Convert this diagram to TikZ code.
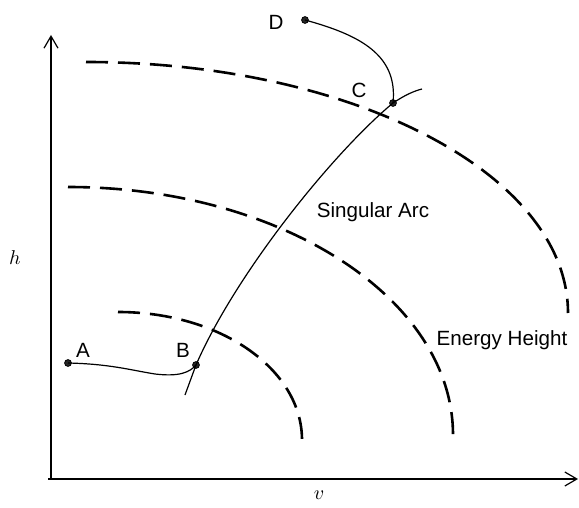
\documentclass[tikz,border=0pt]{standalone}
\usepackage{fontspec}
\setsansfont{Liberation Sans}
\usepackage{tikz}
\usetikzlibrary{arrows.meta}

\begin{document}
\begin{tikzpicture}[x=0.5pt, y=-0.5pt,
    axis/.style={line width=0.6pt, -{Straight Barb[length=6pt, width=7pt, line width=0.6pt]}},
    energy/.style={line width=1.3pt, dash pattern=on 11pt off 5pt},
    path/.style={line width=0.6pt},
    pt/.style={circle, fill=black!85, draw=black, inner sep=0pt, minimum size=3.4pt},
    lbl/.style={font=\sffamily\fontsize{10.3}{12}\selectfont},
    axlbl/.style={font=\normalsize}]

\useasboundingbox (0,0) rectangle (579,508);

% ── Axes ─────────────────────────────────────────────────────────
\coordinate (O) at (51,479);
\coordinate (ytip) at (51,35);
\coordinate (xtip) at (578,479);
\draw[axis] (O) -- (ytip);
\draw[axis] (48,479) -- (xtip);
\node[axlbl] (hlbl) at (15,258) {$h$};
\node[axlbl] (vlbl) at (319,495) {$v$};

% ── Energy height contours (quarter ellipses) ────────────────────
\draw[energy] (86,62) .. controls (352,62) and (568,174) .. (568,313);
\draw[energy] (68,187) .. controls (280,187) and (453,298) .. (453,435);
\draw[energy] (118,312) .. controls (220,312) and (302,369) .. (302,440);

% ── Points ───────────────────────────────────────────────────────
\node[pt] (A) at (68,363) {};
\node[pt] (B) at (196,365) {};
\node[pt] (C) at (393,103) {};
\node[pt] (D) at (305,20) {};
\node[lbl] (Albl) at (83,350) {A};
\node[lbl] (Blbl) at (183,350) {B};
\node[lbl] (Clbl) at (359,90) {C};
\node[lbl] (Dlbl) at (276,22) {D};

% ── Singular arc ─────────────────────────────────────────────────
\coordinate (arcS) at (185,395);
\coordinate (arcE) at (422,89);
\draw[path] (arcS) -- (B.center)
    .. controls (236,273) and (333,153) .. (C.center)
    .. controls (405,95) and (414,91) .. (arcE);

% Trajectories
\draw[path] (A.center) .. controls (110,364) and (130,370) .. (155,374)
    .. controls (180,377) and (190,372) .. (B.center);
\draw[path] (D.center) .. controls (360,35) and (398,55) .. (C.center);

\node[lbl] (sarc) at (373,212) {Singular Arc};
\node[lbl] (ehgt) at (502,340) {Energy Height};

\end{tikzpicture}
\end{document}
